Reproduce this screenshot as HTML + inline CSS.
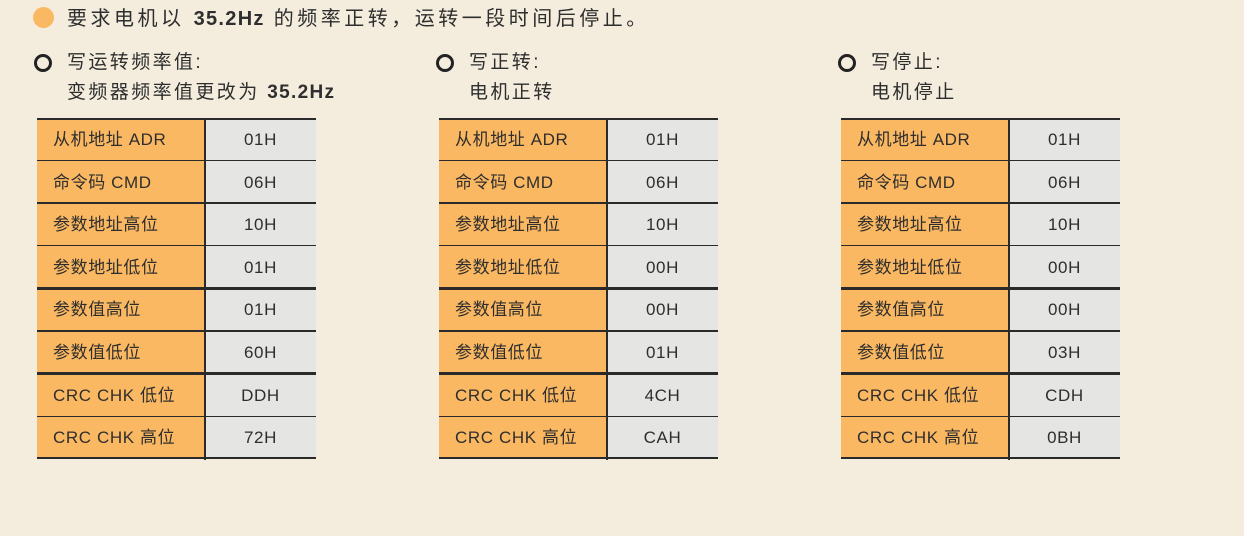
<!DOCTYPE html>
<html><head><meta charset="utf-8"><style>
*{margin:0;padding:0;box-sizing:border-box}
body{width:1244px;height:536px;background:#f4eddd;position:relative;overflow:hidden;font-family:"Liberation Sans","Noto Sans CJK SC",sans-serif;color:#2e2e2e}
.dot{position:absolute;left:33px;top:7px;width:21px;height:21px;border-radius:50%;background:#fbb862}
.ring{position:absolute;width:18px;height:18px;border-radius:50%;border:3px solid #222}
.t{position:absolute;white-space:nowrap}
.h{font-size:20px;letter-spacing:3.5px;left:67px;top:2px}
.s{font-size:19px;letter-spacing:2.4px;line-height:30px}
b{font-weight:bold;letter-spacing:1.3px}
.tbl{position:absolute;top:118px;width:279px;height:342px}
.row{position:absolute;left:0;width:279px;height:43px;font-size:17px;letter-spacing:0.6px}
.row .k{position:absolute;left:0;top:0;width:168px;height:100%;background:#fbb862;padding-left:16px;line-height:43px}
.row .v{position:absolute;left:168px;top:0;width:111px;height:100%;background:#e5e5e3;text-align:center;line-height:43px}
.ln{position:absolute;left:0;width:279px;background:#2a2a2a}
.vl{position:absolute;left:167px;top:0;width:2px;height:342px;background:#2a2a2a}
</style></head><body>
<div class="dot"></div>
<div class="t h">要求电机以 <b>35.2Hz</b> 的频率正转，运转一段时间后停止。</div>

<div class="ring" style="left:34px;top:54px"></div>
<div class="t s" style="left:67px;top:48px">写运转频率值:<br>变频器频率值更改为 <b>35.2Hz</b></div>
<div class="ring" style="left:436px;top:54px"></div>
<div class="t s" style="left:469px;top:48px">写正转:<br>电机正转</div>
<div class="ring" style="left:838px;top:54px"></div>
<div class="t s" style="left:871px;top:48px">写停止:<br>电机停止</div>

<div class="tbl" style="left:37px" id="a"></div>
<div class="tbl" style="left:439px" id="b"></div>
<div class="tbl" style="left:841px" id="c"></div>
<script>
var keys=["从机地址 ADR","命令码 CMD","参数地址高位","参数地址低位","参数值高位","参数值低位","CRC CHK 低位","CRC CHK 高位"];
var vals={a:["01H","06H","10H","01H","01H","60H","DDH","72H"],b:["01H","06H","10H","00H","00H","01H","4CH","CAH"],c:["01H","06H","10H","00H","00H","03H","CDH","0BH"]};
for(var id in vals){var t=document.getElementById(id),h="";
for(var i=0;i<8;i++){var y=i*42.6;h+='<div class="row" style="top:'+y+'px"><div class="k">'+keys[i]+'</div><div class="v">'+vals[id][i]+'</div></div>';}
for(var i=0;i<=8;i++){var y=i*42.6,th=(i%2==0)?2.5:1.3;h+='<div class="ln" style="top:'+(y-th/2+(i==0?1:0)-(i==8?1:0))+'px;height:'+th+'px"></div>';}
h+='<div class="vl"></div>';t.innerHTML=h;}
</script>
</body></html>
